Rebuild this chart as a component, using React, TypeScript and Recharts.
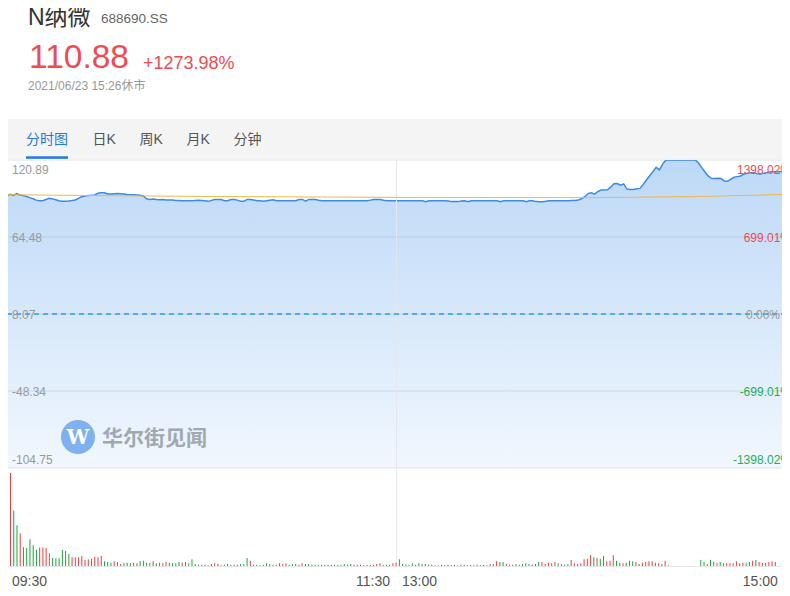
import React from "react";
import {
  ComposedChart,
  Area,
  Line,
  XAxis,
  YAxis,
  CartesianGrid,
  ReferenceLine,
  BarChart,
  Bar,
  Cell,
} from "recharts";

// ---------- data ----------
const PRE_CLOSE = 8.07;
const Y_TICKS = [120.89, 64.48, 8.07, -48.34, -104.75];
const TIME_TICKS = [0, 120, 240];

// one price per minute: 09:30..11:30 (0..120), 13:01..15:00 (121..240)
const PRICE = [
  94.7, 95.8, 95.0, 96.3, 95.3, 94.8, 94.2, 93.3, 92.5, 91.5,
  91.1, 91.1, 92.0, 92.8, 92.4, 91.8, 91.0, 90.6, 90.7, 90.9,
  91.2, 91.6, 92.8, 94.0, 94.5, 94.8, 95.0, 95.3, 96.5, 96.9,
  96.9, 96.0, 95.9, 96.2, 96.3, 96.2, 96.0, 95.6, 95.5, 95.4,
  95.2, 95.0, 94.6, 92.5, 92.0, 92.4, 92.0, 91.8, 92.0, 91.6,
  91.5, 91.6, 91.3, 91.2, 91.1, 91.1, 91.1, 91.1, 91.3, 91.4,
  91.3, 91.1, 90.6, 91.3, 92.0, 92.0, 92.0, 91.1, 91.0, 92.0,
  92.0, 91.5, 90.6, 90.6, 92.0, 92.0, 91.6, 91.1, 91.0, 90.6,
  91.0, 91.4, 91.8, 91.1, 91.1, 91.1, 91.1, 91.1, 91.1, 91.1,
  92.0, 92.0, 90.8, 92.0, 92.0, 92.0, 91.4, 91.1, 91.0, 91.0,
  91.0, 91.0, 91.1, 91.0, 91.0, 91.0, 91.1, 91.0, 91.0, 91.0,
  91.0, 91.1, 91.5, 92.0, 92.0, 92.0, 91.4, 91.1, 91.1, 91.1,
  91.1, 91.1, 91.1, 91.1, 91.1, 91.0, 91.1, 91.1, 91.0, 90.4,
  91.1, 91.1, 91.1, 91.1, 91.1, 91.1, 90.8, 90.4, 90.4, 90.4,
  90.8, 91.1, 90.4, 91.1, 91.1, 91.1, 91.1, 91.1, 91.1, 91.1,
  91.1, 91.0, 90.4, 91.1, 91.1, 91.1, 91.1, 91.1, 91.1, 91.1,
  90.4, 91.1, 91.1, 90.4, 90.3, 90.3, 90.6, 91.1, 91.1, 91.1,
  91.1, 91.1, 91.1, 91.1, 91.2, 91.3, 91.6, 92.5, 94.0, 96.3,
  96.8, 95.8, 97.7, 98.9, 98.9, 99.0, 101.0, 103.5, 103.6, 102.4,
  103.4, 99.6, 99.3, 99.3, 99.8, 100.1, 103.0, 106.2, 109.4, 112.3,
  115.5, 113.6, 117.9, 120.89, 120.89, 120.89, 120.89, 120.89, 120.89, 120.89,
  120.89, 120.89, 120.89, 118.9, 115.5, 112.3, 109.2, 107.5, 107.3, 107.5,
  107.3, 105.5, 105.3, 106.8, 108.2, 108.7, 109.2, 110.6, 111.1, 111.6,
  111.6, 110.9, 110.6, 111.1, 111.6, 112.1, 112.3, 112.3, 112.3, 112.2,
  112.1,
];

// average price line, read at a few minutes
const AVG_IDX = [0, 10, 30, 60, 120, 176, 190, 203, 213, 240];
const AVG_VAL = [95.5, 95.2, 94.8, 94.2, 93.5, 93.3, 93.5, 93.9, 94.1, 95.7];

// relative volume per minute
const VOLUME = [
  278, 166, 122, 98, 56, 54, 80, 62, 48, 55,
  56, 54, 38, 24, 23, 23, 48, 45, 36, 26,
  26, 26, 30, 18, 20, 22, 28, 26, 30, 14,
  12, 10, 14, 12, 6, 8, 10, 8, 10, 8,
  14, 16, 10, 10, 14, 8, 10, 8, 12, 10,
  8, 8, 12, 10, 12, 8, 20, 6, 4, 4,
  4, 2, 6, 8, 6, 2, 4, 6, 4, 4,
  4, 6, 6, 24, 16, 4, 4, 2, 4, 8,
  6, 4, 4, 8, 6, 8, 4, 6, 6, 4,
  8, 6, 6, 4, 4, 4, 4, 4, 4, 4,
  4, 4, 4, 6, 4, 6, 4, 4, 4, 2,
  4, 4, 4, 6, 8, 4, 4, 4, 8, 10,
  20, 6, 4, 4, 8, 4, 8, 6, 6, 4,
  4, 2, 2, 4, 2, 4, 2, 4, 2, 4,
  4, 2, 4, 2, 4, 2, 4, 2, 6, 6,
  14, 12, 12, 6, 4, 4, 6, 4, 6, 8,
  6, 4, 6, 12, 12, 6, 10, 8, 12, 8,
  6, 4, 6, 18, 8, 6, 8, 20, 22, 32,
  26, 24, 22, 30, 14, 16, 32, 16, 10, 8,
  10, 16, 14, 12, 6, 10, 12, 14, 14, 10,
  8, 6, 16, 2, 0, 0, 0, 0, 0, 0,
  0, 0, 0, 18, 12, 6, 18, 12, 8, 12,
  8, 8, 8, 8, 14, 8, 10, 8, 12, 16,
  18, 12, 10, 10, 12, 14, 12, 0, 0, 0,
  0,
];

// r = up (red), g = down (green)
const VOL_DIR = (
  "rggrgggggr" + "rrrggggrgr" + "rrrrrgrrrg" + "ggrgrggggr" + "ggggrggrrg" +
  "gggrrggggg" + "grrrrrgggr" + "ggggrrgggg" + "grggrrggrg" + "rggggggggg" +
  "ggggggrrrr" + "rrrrrgggrr" + "ggggggggrg" + "rggggggggr" + "rrgrgrggrr" +
  "rggrrrgrgg" + "grrgrrrrrg" + "rggrrrrrrr" + "grggrrrggr" + "grgrgrrrrg" +
  "rgrrrrrrrr" + "rrrggrggrg" + "rrrrrgrggr" + "grrrrrgrrr" + "r"
).split("");

// ---------- styles ----------
const RED = "#f04b4f";
const GREEN = "#1fae55";
const BAR_RED = "#f03c3c";
const BAR_GREEN = "#17a83a";
const BLUE = "#3b8be6";
const FONT = "'Liberation Sans', Arial, 'Noto Sans CJK SC', sans-serif";

const priceRows = PRICE.map((p, i) => ({ i, p }));
const avgRows = AVG_IDX.map((i, k) => ({ i, a: AVG_VAL[k] }));
const volRows = VOLUME.map((v, i) => ({ i, v }));

function PriceTick(props: any) {
  const { y, payload } = props;
  const v: number = payload.value;
  const isTop = v === Y_TICKS[0];
  const isBottom = v === Y_TICKS[Y_TICKS.length - 1];
  const by = isTop ? y + 14.3 : isBottom ? y - 3.7 : y + 4.5;
  const pct = ((v - PRE_CLOSE) / PRE_CLOSE) * 100;
  const zero = Math.abs(pct) < 0.005;
  const pctText = (zero ? "0.00" : pct.toFixed(2)) + "%";
  const color = zero ? "#999" : pct > 0 ? RED : GREEN;
  return (
    <g>
      <text x={6} y={by} fontSize={12} fill="#999" textAnchor="start" fontFamily={FONT}>
        {v.toFixed(2)}
      </text>
      <text x={zero ? 774 : 785} y={by} fontSize={12} fill={color} textAnchor="end" fontFamily={FONT}>
        {pctText}
      </text>
    </g>
  );
}

function TimeTick(props: any) {
  const { x, payload } = props;
  const v = payload.value;
  const y = 114;
  const common = { fontSize: 14, fill: "#555", fontFamily: FONT, y };
  if (v === 0) return <text {...common} x={x + 1.4} textAnchor="start">09:30</text>;
  if (v === 240) return <text {...common} x={x - 10.5} textAnchor="end">15:00</text>;
  return (
    <g>
      <text {...common} x={x - 9.5} textAnchor="end">11:30</text>
      <text {...common} x={x + 2.5} textAnchor="start">13:00</text>
    </g>
  );
}

export default function App() {
  return (
    <div
      style={{
        position: "relative",
        width: 790,
        height: 596,
        margin: -8,
        overflow: "hidden",
        background: "#fff",
        fontFamily: FONT,
      }}
    >
      {/* header + tabs */}
      <svg width={790} height={160} style={{ position: "absolute", left: 0, top: 0 }}>
        <rect x={6} y={119} width={780} height={40} fill="#f4f4f4" />
        <text x={28} y={25} fontSize={23} fill="#333" fontFamily={FONT}>N纳微</text>
        <text x={101} y={23} fontSize={13.5} fill="#666" fontFamily={FONT}>688690.SS</text>
        <text x={29} y={68} fontSize={33.5} fill={RED} fontFamily={FONT}>110.88</text>
        <text x={143} y={69} fontSize={18} fill={RED} fontFamily={FONT}>+1273.98%</text>
        <text x={28} y={89.5} fontSize={12} fill="#999" fontFamily={FONT}>2021/06/23 15:26休市</text>
        <text x={26} y={144} fontSize={14} fill="#217ae6" fontFamily={FONT}>分时图</text>
        <rect x={26} y={156.3} width={42} height={2.5} fill="#217ae6" />
        <text x={92.5} y={144} fontSize={14} fill="#555" fontFamily={FONT}>日K</text>
        <text x={139.5} y={144} fontSize={14} fill="#555" fontFamily={FONT}>周K</text>
        <text x={186.5} y={144} fontSize={14} fill="#555" fontFamily={FONT}>月K</text>
        <text x={233.5} y={144} fontSize={14} fill="#555" fontFamily={FONT}>分钟</text>
      </svg>

      {/* price panel */}
      <div style={{ position: "absolute", left: 6, top: 159 }}>
        <ComposedChart
          width={780}
          height={310}
          data={priceRows}
          margin={{ top: 1, right: 0, bottom: 1, left: 1 }}
        >
          <defs>
            <linearGradient id="priceFill" x1="0" y1="0" x2="0" y2="1">
              <stop offset="0%" stopColor="#3d8ee8" stopOpacity={0.34} />
              <stop offset="100%" stopColor="#3d8ee8" stopOpacity={0.07} />
            </linearGradient>
          </defs>
          <CartesianGrid vertical={false} stroke="#dde3ea" />
          <XAxis dataKey="i" type="number" domain={[0, 240]} hide allowDataOverflow />
          <YAxis
            domain={[Y_TICKS[4], Y_TICKS[0]]}
            ticks={Y_TICKS}
            allowDataOverflow
            mirror
            width={60}
            axisLine={false}
            tickLine={false}
            tick={PriceTick}
            interval={0}
          />
          <Area
            type="linear"
            dataKey="p"
            stroke={BLUE}
            strokeWidth={1.5}
            fill="url(#priceFill)"
            fillOpacity={1}
            baseValue={Y_TICKS[4]}
            dot={false}
            activeDot={false}
            isAnimationActive={false}
          />
          <ReferenceLine x={0} stroke="#e3e3e3" />
          <ReferenceLine x={120} stroke="#e3e7ec" />
          <ReferenceLine y={PRE_CLOSE} stroke="#2b9af2" strokeWidth={1.5} strokeDasharray="5 4" />
          <Line
            data={avgRows}
            type="linear"
            dataKey="a"
            stroke="#f2b64b"
            strokeWidth={1}
            dot={false}
            activeDot={false}
            isAnimationActive={false}
          />
        </ComposedChart>
      </div>

      {/* watermark */}
      <div style={{ position: "absolute", left: 61, top: 420, pointerEvents: "none" }}>
        <svg width={160} height={36}>
          <circle cx={17} cy={17} r={17} fill="#80b1ef" />
          <text x={17} y={24} textAnchor="middle" fontSize={20} fontWeight="bold" fill="#fff" fontFamily="'DejaVu Serif', serif">W</text>
          <text x={41} y={25} fontSize={21} fontWeight="bold" fill="#a0a8b4" fontFamily="'Noto Sans CJK SC', sans-serif">华尔街见闻</text>
        </svg>
      </div>

      {/* volume panel frame */}
      <div style={{ position: "absolute", left: 7, top: 473, width: 1, height: 93, background: "#e8e8e8" }} />
      <div style={{ position: "absolute", left: 396, top: 469, width: 1, height: 97, background: "#eaeaea" }} />
      <div style={{ position: "absolute", left: 7, top: 566, width: 779, height: 1, background: "#e6e6e6" }} />

      {/* volume panel */}
      <div style={{ position: "absolute", left: 8, top: 472 }}>
        <BarChart
          width={782}
          height={124}
          data={volRows}
          margin={{ top: 1, right: 0, bottom: 0, left: 1 }}
          barCategoryGap={0}
        >
          <XAxis
            dataKey="i"
            type="category"
            ticks={TIME_TICKS}
            interval={0}
            axisLine={false}
            tickLine={false}
            height={30}
            tick={TimeTick}
          />
          <YAxis hide domain={[0, VOLUME[0]]} allowDataOverflow />
          <Bar dataKey="v" barSize={1} isAnimationActive={false}>
            {volRows.map((r, k) => (
              <Cell key={k} fill={VOL_DIR[k] === "r" ? BAR_RED : BAR_GREEN} />
            ))}
          </Bar>
        </BarChart>
      </div>
    </div>
  );
}
